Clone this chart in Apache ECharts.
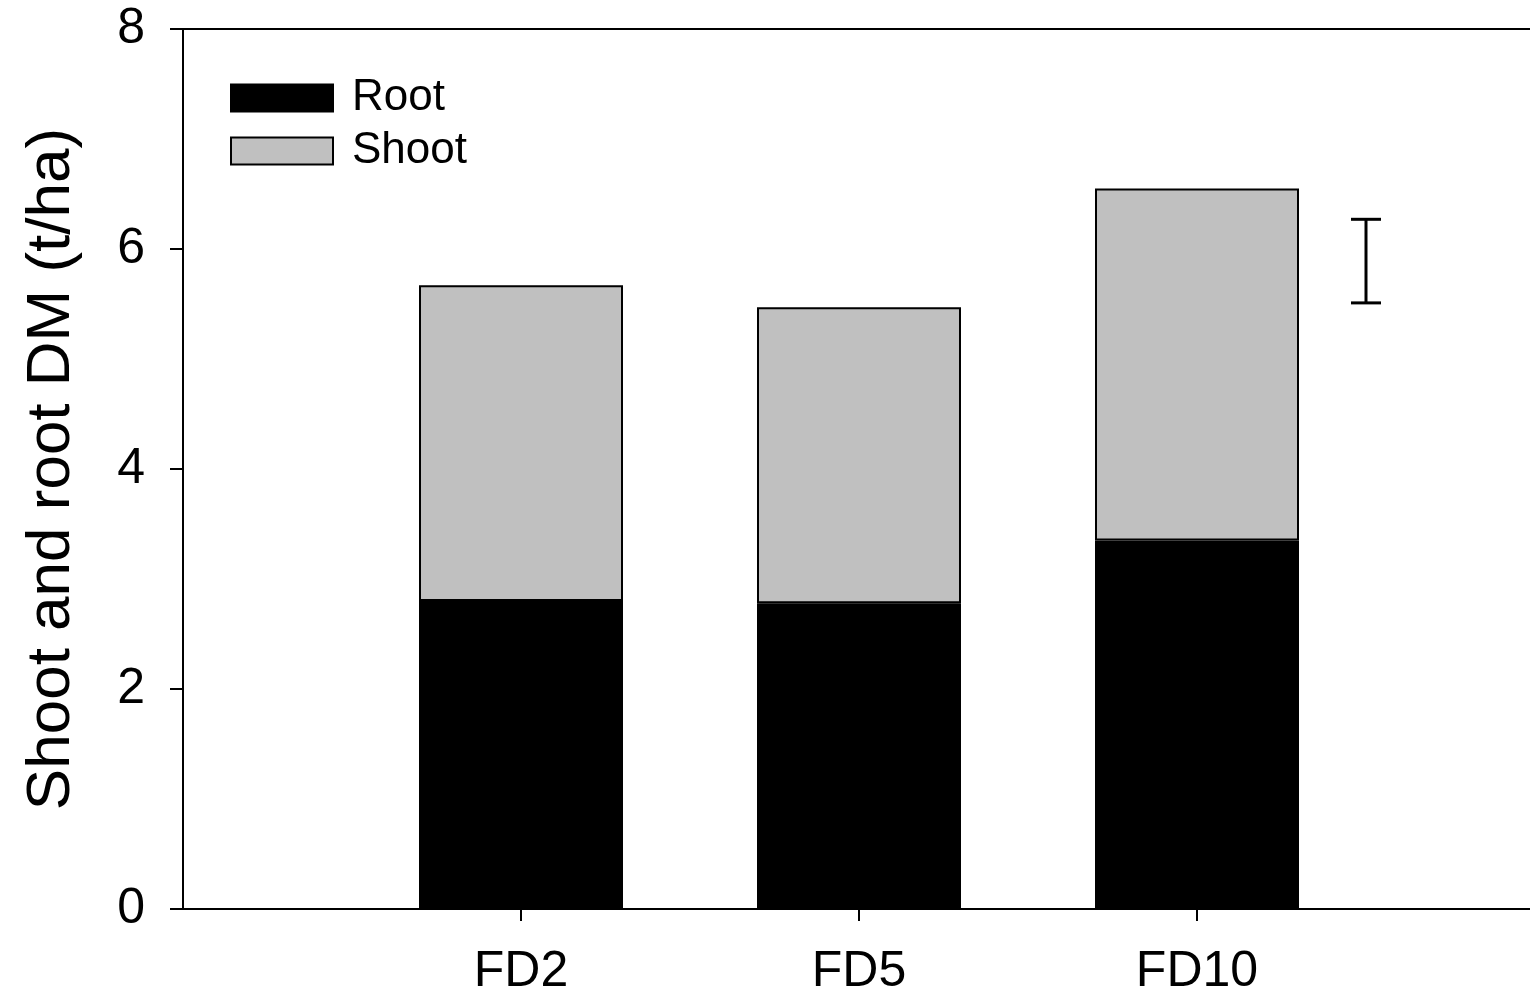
<!DOCTYPE html>
<html>
<head>
<meta charset="utf-8">
<script src="https://cdn.jsdelivr.net/npm/echarts@6/dist/echarts.min.js"></script>
<style>
  html, body { margin: 0; padding: 0; background: #fff; }
  #main { width: 1530px; height: 993px; }
</style>
</head>
<body>
<div id="main"></div>
<script>
var categories = ['FD2', 'FD5', 'FD10'];
var rootDM = [2.80, 2.78, 3.35];
var shootDM = [2.87, 2.69, 3.20];
var yTicks = [0, 2, 4, 6, 8];
// pooled error bar, drawn halfway between FD10 and the right end: [low, high]
var errorBar = [[5.51, 6.27]];

var font = 'Liberation Sans, Arial, sans-serif';

// empty slots on both ends so the axis runs 0..4 with the bars at 1, 2, 3
var axisData = [''].concat(categories, ['']);
function pad(arr) {
    return ['-'].concat(arr, ['-']);
}

var myChart = echarts.init(document.getElementById('main'));

myChart.setOption({
    animation: false,
    textStyle: { fontFamily: font, color: '#000' },
    grid: { left: 183, top: 29, width: 1352, height: 880, outerBoundsMode: 'none' },
    legend: {
        orient: 'vertical',
        left: 225,
        top: 71,
        icon: 'rect',
        itemWidth: 102,
        itemHeight: 27,
        itemGap: 9,
        data: ['Root', 'Shoot'],
        textStyle: { fontSize: 44, color: '#000', padding: [0, 0, 0, 14], fontFamily: font }
    },
    xAxis: [{
        type: 'category',
        data: axisData,
        boundaryGap: false,
        axisLine: { show: true, onZero: false, lineStyle: { color: '#000', width: 2 } },
        axisTick: {
            show: true,
            length: 12,
            interval: function (idx) { return idx >= 1 && idx <= categories.length; },
            lineStyle: { color: '#000', width: 2 }
        },
        axisLabel: {
            interval: 0,
            fontSize: 50,
            color: '#000',
            margin: 38,
            fontFamily: font
        }
    }, {
        type: 'value',
        position: 'top',
        min: 0,
        max: 4,
        splitLine: { show: false },
        axisLine: { show: true, onZero: false, lineStyle: { color: '#000', width: 2 } },
        axisTick: { show: false },
        axisLabel: { show: false }
    }],
    yAxis: {
        type: 'value',
        min: 0,
        max: 8,
        interval: 2,
        name: 'Shoot and root DM (t/ha)',
        nameLocation: 'middle',
        nameGap: 100,
        nameTextStyle: { fontSize: 62, color: '#000', fontFamily: font },
        splitLine: { show: false },
        axisLine: { show: true, onZero: false, lineStyle: { color: '#000', width: 2 } },
        axisTick: { show: true, length: 13, lineStyle: { color: '#000', width: 2 } },
        axisLabel: {
            fontSize: 50,
            color: '#000',
            margin: 38,
            fontFamily: font,
            formatter: function (v) { return yTicks.indexOf(v) >= 0 ? String(v) : ''; }
        }
    },
    series: [{
        name: 'Root',
        type: 'bar',
        stack: 'dm',
        barWidth: 204,
        data: pad(rootDM),
        itemStyle: { color: '#000', borderColor: '#000', borderWidth: 2 }
    }, {
        name: 'Shoot',
        type: 'bar',
        stack: 'dm',
        barWidth: 204,
        data: pad(shootDM),
        itemStyle: { color: '#c0c0c0', borderColor: '#000', borderWidth: 2 }
    }, {
        type: 'custom',
        name: 'error',
        data: errorBar,
        renderItem: function (params, api) {
            var n = categories.length;
            var xa = api.coord([n, 0])[0];
            var xb = api.coord([n + 1, 0])[0];
            var x = (xa + xb) / 2;
            var lo = api.coord([n, api.value(0)])[1];
            var hi = api.coord([n, api.value(1)])[1];
            var half = 15;
            var style = { stroke: '#000', lineWidth: 3 };
            return {
                type: 'group',
                children: [
                    { type: 'line', shape: { x1: x, y1: lo, x2: x, y2: hi }, style: style },
                    { type: 'line', shape: { x1: x - half, y1: lo, x2: x + half, y2: lo }, style: style },
                    { type: 'line', shape: { x1: x - half, y1: hi, x2: x + half, y2: hi }, style: style }
                ]
            };
        }
    }]
});
</script>
</body>
</html>
